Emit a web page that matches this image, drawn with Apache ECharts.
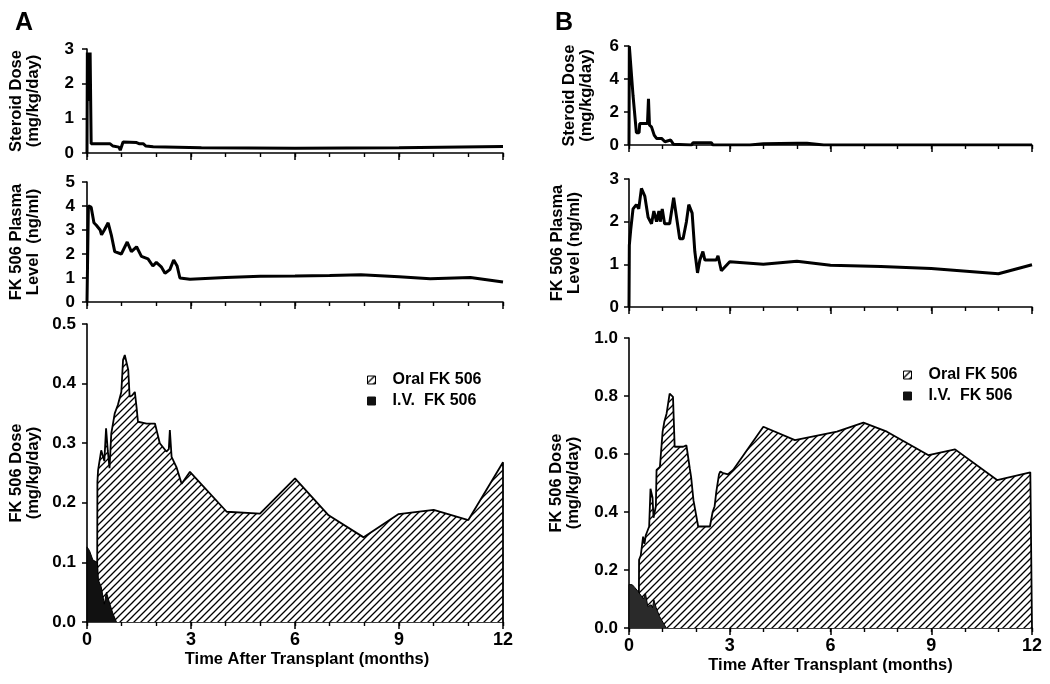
<!DOCTYPE html>
<html>
<head>
<meta charset="utf-8">
<script src="https://cdn.jsdelivr.net/npm/echarts@6/dist/echarts.min.js"></script>
<style>
html,body{margin:0;padding:0;background:#fff;}
#c{width:1050px;height:684px;}
</style>
</head>
<body>
<div id="c"></div>
<script>
// ---------- DATA ----------
const xTicks = [0, 3, 6, 9, 12];

// Panel A
const aSteroidT = [0, 0.01, 0.05, 0.07, 0.09, 0.12, 0.66, 0.75, 0.92, 0.96, 0.99, 1.04, 1.43, 1.5, 1.62, 1.7, 1.91, 3.3, 6, 9, 12];
const aSteroidV = [0, 2.9, 2.9, 1.5, 2.9, 0.27, 0.27, 0.2, 0.17, 0.08, 0.08, 0.32, 0.3, 0.27, 0.27, 0.2, 0.18, 0.15, 0.14, 0.15, 0.19];

const aPlasmaT = [0, 0.04, 0.12, 0.2, 0.27, 0.38, 0.42, 0.5, 0.61, 0.7, 0.8, 0.99, 1.04, 1.16, 1.28, 1.43, 1.57, 1.76, 1.9, 2.0, 2.15, 2.25, 2.39, 2.5, 2.6, 2.68, 2.97, 4, 5, 6, 7, 7.9, 9, 9.9, 11.06, 12];
const aPlasmaV = [0, 4.0, 3.95, 3.3, 3.2, 3.0, 2.8, 3.0, 3.3, 2.8, 2.1, 2.0, 1.95, 2.5, 2.1, 2.3, 1.9, 1.8, 1.5, 1.65, 1.45, 1.2, 1.35, 1.75, 1.5, 1.0, 0.95, 1.02, 1.07, 1.08, 1.1, 1.14, 1.05, 0.97, 1.02, 0.83];

const aOralT = [0.29, 0.3, 0.32, 0.41, 0.46, 0.5, 0.55, 0.6, 0.65, 0.7, 0.8, 0.89, 0.99, 1.04, 1.09, 1.14, 1.19, 1.23, 1.3, 1.38, 1.43, 1.47, 1.72, 1.96, 2.1, 2.29, 2.36, 2.39, 2.44, 2.58, 2.73, 2.97, 4.03, 4.99, 6.0, 6.97, 7.98, 8.99, 10.0, 11.0, 12, 12];
const aOralV = [0, 0.235, 0.255, 0.288, 0.29, 0.27, 0.325, 0.287, 0.258, 0.316, 0.35, 0.364, 0.386, 0.44, 0.448, 0.445, 0.423, 0.378, 0.38, 0.386, 0.36, 0.336, 0.333, 0.333, 0.3, 0.286, 0.29, 0.322, 0.277, 0.26, 0.232, 0.252, 0.185, 0.182, 0.241, 0.179, 0.142, 0.181, 0.188, 0.171, 0.268, 0];

const aIvT = [0, 0, 0.07, 0.17, 0.3, 0.33, 0.41, 0.5, 0.56, 0.66, 0.75, 0.85];
const aIvV = [0, 0.126, 0.12, 0.104, 0.1, 0.07, 0.059, 0.03, 0.05, 0.03, 0.014, 0];

// Panel B
const bSteroidT = [0, 0.01, 0.05, 0.12, 0.17, 0.22, 0.3, 0.32, 0.55, 0.58, 0.61, 0.67, 0.75, 0.82, 0.97, 1.07, 1.12, 1.24, 1.32, 1.86, 1.91, 2.45, 2.5, 3.6, 4.0, 5.0, 5.3, 5.8, 12];
const bSteroidV = [0, 6, 6, 3, 3, 0.75, 0.75, 1.3, 1.3, 2.8, 1.2, 1.1, 0.6, 0.4, 0.4, 0.2, 0.2, 0.3, 0.05, 0, 0.14, 0.14, 0, 0, 0.08, 0.1, 0.1, 0, 0];

const bPlasmaT = [0, 0.01, 0.05, 0.12, 0.22, 0.29, 0.37, 0.47, 0.57, 0.62, 0.67, 0.74, 0.82, 0.89, 0.93, 0.99, 1.06, 1.21, 1.33, 1.51, 1.61, 1.71, 1.78, 1.88, 1.96, 2.04, 2.11, 2.2, 2.26, 2.6, 2.65, 2.75, 3.0, 4.0, 5.0, 6.0, 7.5, 9.0, 11.0, 12];
const bPlasmaV = [0, 1.45, 1.8, 2.3, 2.4, 2.3, 2.78, 2.6, 2.1, 2.1, 1.95, 2.25, 2.0, 2.25, 2.0, 2.3, 1.95, 1.95, 2.56, 1.6, 1.6, 2.0, 2.4, 2.2, 1.3, 0.8, 1.1, 1.3, 1.1, 1.1, 1.2, 0.85, 1.06, 1.0, 1.07, 0.98, 0.95, 0.9, 0.78, 0.99];

const bOralT = [0.29, 0.3, 0.35, 0.42, 0.46, 0.5, 0.6, 0.64, 0.7, 0.73, 0.8, 0.82, 0.92, 1.0, 1.05, 1.12, 1.17, 1.21, 1.31, 1.36, 1.61, 1.71, 1.76, 1.81, 1.85, 1.92, 2.06, 2.41, 2.49, 2.55, 2.6, 2.68, 2.72, 2.78, 2.95, 3.1, 4.0, 4.94, 6.19, 6.98, 7.68, 8.92, 9.71, 10.96, 11.95, 12, 12];
const bOralV = [0, 0.235, 0.25, 0.315, 0.29, 0.32, 0.35, 0.48, 0.45, 0.38, 0.42, 0.545, 0.555, 0.676, 0.71, 0.74, 0.735, 0.808, 0.797, 0.625, 0.625, 0.63, 0.63, 0.55, 0.52, 0.44, 0.35, 0.35, 0.40, 0.42, 0.47, 0.53, 0.54, 0.535, 0.53, 0.545, 0.694, 0.648, 0.677, 0.708, 0.677, 0.596, 0.616, 0.51, 0.537, 0.537, 0];

const bIvT = [0, 0, 0.1, 0.17, 0.27, 0.37, 0.43, 0.49, 0.56, 0.66, 0.7, 0.74, 0.81, 0.91, 1.11];
const bIvV = [0, 0.15, 0.149, 0.14, 0.126, 0.11, 0.1, 0.12, 0.074, 0.08, 0.07, 0.097, 0.07, 0.04, 0];

const legendNames = ['Oral FK 506', 'I.V.  FK 506'];

// ---------- BUILD ----------
function zip(t, v) { return t.map((x, i) => [x, v[i]]); }

function hatchTile() {
  const s = 7;
  const c = document.createElement('canvas');
  c.width = s; c.height = s;
  const g = c.getContext('2d');
  g.fillStyle = '#fff'; g.fillRect(0, 0, s, s);
  g.strokeStyle = '#000'; g.lineWidth = 1.3;
  g.beginPath();
  g.moveTo(0, s); g.lineTo(s, 0);
  g.moveTo(-s / 2, s / 2); g.lineTo(s / 2, -s / 2);
  g.moveTo(s / 2, s * 1.5); g.lineTo(s * 1.5, s / 2);
  g.stroke();
  return c;
}
const hatch = { image: hatchTile(), repeat: 'repeat' };

const FONT = 'Liberation Sans, Arial, Helvetica, sans-serif';
const grids = [
  { left: 87, top: 49, width: 416, height: 104 },
  { left: 87, top: 182, width: 416, height: 120 },
  { left: 87, top: 324, width: 416, height: 298 },
  { left: 629, top: 46, width: 403, height: 99 },
  { left: 629, top: 179, width: 403, height: 128 },
  { left: 629, top: 338, width: 403, height: 290 }
];

// main x axis: monthly ticks, labels only at 0,3,6,9,12
function xAxis(i, bottom, shift) {
  return {
    type: 'value', gridIndex: i, min: 0, max: 12, interval: 1,
    axisLine: { lineStyle: { color: '#000', width: 1.6 } },
    axisTick: { show: true, length: 4, lineStyle: { color: '#000', width: 1.4 } },
    splitLine: { show: false },
    axisLabel: { show: bottom, color: '#000', fontSize: 18, fontWeight: 'bold', fontFamily: FONT, margin: 9,
      formatter: v => (xTicks.indexOf(v) >= 0 ? String(v) : '') },
    name: bottom ? 'Time After Transplant (months)' : '',
    nameLocation: 'middle', nameGap: 29,
    nameTextStyle: { color: '#000', fontSize: 16.5, fontWeight: 'bold', fontFamily: FONT, padding: [0, 0, 0, shift] }
  };
}
// overlay axis: longer ticks every 3 months
function xMajor(i) {
  return {
    type: 'value', gridIndex: i, min: 0, max: 12, interval: 3, position: 'bottom',
    axisLine: { show: false }, splitLine: { show: false }, axisLabel: { show: false },
    axisTick: { show: true, length: 7, lineStyle: { color: '#000', width: 1.5 } }
  };
}
function yAxis(i, max, interval, name, dec, gap, margin) {
  return {
    type: 'value', gridIndex: i, min: 0, max: max, interval: interval,
    axisLine: { show: true, lineStyle: { color: '#000', width: 1.6 } },
    axisTick: { show: true, length: 5, lineStyle: { color: '#000', width: 1.5 } },
    splitLine: { show: false },
    axisLabel: { color: '#000', fontSize: 17, fontWeight: 'bold', fontFamily: FONT, margin: margin,
      formatter: v => v.toFixed(dec) },
    name: name, nameLocation: 'middle', nameGap: gap,
    nameTextStyle: { color: '#000', fontSize: 16.5, fontWeight: 'bold', fontFamily: FONT, lineHeight: 17 }
  };
}

function lineS(i, t, v) {
  return { type: 'line', xAxisIndex: i, yAxisIndex: i, data: zip(t, v), showSymbol: false,
    lineStyle: { color: '#000', width: 3 }, itemStyle: { color: '#000' }, silent: true, animation: false };
}
function areaS(i, t, v, name, fill, lw, z) {
  return { type: 'line', name: name, xAxisIndex: i, yAxisIndex: i, data: zip(t, v), showSymbol: false, z: z,
    lineStyle: { color: '#000', width: lw }, itemStyle: { color: fill },
    areaStyle: { color: fill, opacity: 1, origin: 0 }, silent: true, animation: false };
}
function legend(left, top) {
  return {
    orient: 'vertical', left: left, top: top, itemWidth: 8, itemHeight: 8, itemGap: 5,
    selectedMode: false,
    textStyle: { color: '#000', fontSize: 16, fontWeight: 'bold', fontFamily: FONT, padding: [0, 0, 0, 12] },
    data: [
      { name: legendNames[0], icon: 'rect', itemStyle: { color: hatch, borderColor: '#000', borderWidth: 1 } },
      { name: legendNames[1], icon: 'rect', itemStyle: { color: '#111', borderColor: '#111', borderWidth: 1 } }
    ]
  };
}

const option = {
  backgroundColor: '#fff',
  animation: false,
  title: [
    { text: 'A', left: 10, top: 6, textStyle: { fontSize: 25, fontWeight: 'bold', fontFamily: FONT, color: '#000' } },
    { text: 'B', left: 550, top: 6, textStyle: { fontSize: 25, fontWeight: 'bold', fontFamily: FONT, color: '#000' } }
  ],
  legend: [legend(362, 367), legend(898, 362)],
  grid: grids,
  xAxis: [
    xAxis(0, false, 0), xAxis(1, false, 0), xAxis(2, true, 24),
    xAxis(3, false, 0), xAxis(4, false, 0), xAxis(5, true, 0),
    xMajor(0), xMajor(1), xMajor(2), xMajor(3), xMajor(4), xMajor(5)
  ],
  yAxis: [
    yAxis(0, 3, 1, 'Steroid Dose\n(mg/kg/day)', 0, 45, 13),
    yAxis(1, 5, 1, 'FK 506 Plasma\nLevel  (ng/ml)', 0, 45, 12),
    yAxis(2, 0.5, 0.1, 'FK 506 Dose\n(mg/kg/day)', 1, 45, 11),
    yAxis(3, 6, 2, 'Steroid Dose\n(mg/kg/day)', 0, 34, 10),
    yAxis(4, 3, 1, 'FK 506 Plasma\nLevel (ng/ml)', 0, 46, 10),
    yAxis(5, 1.0, 0.2, 'FK 506 Dose\n(mg/kg/day)', 1, 47, 11)
  ],
  series: [
    lineS(0, aSteroidT, aSteroidV),
    lineS(1, aPlasmaT, aPlasmaV),
    areaS(2, aOralT, aOralV, legendNames[0], hatch, 1.8, 2),
    areaS(2, aIvT, aIvV, legendNames[1], '#111', 1, 3),
    lineS(3, bSteroidT, bSteroidV),
    lineS(4, bPlasmaT, bPlasmaV),
    areaS(5, bOralT, bOralV, legendNames[0], hatch, 1.8, 2),
    areaS(5, bIvT, bIvV, legendNames[1], '#2a2a2a', 1, 3)
  ]
};

const chart = echarts.init(document.getElementById('c'), null, { renderer: 'canvas' });
chart.setOption(option);
</script>
</body>
</html>
